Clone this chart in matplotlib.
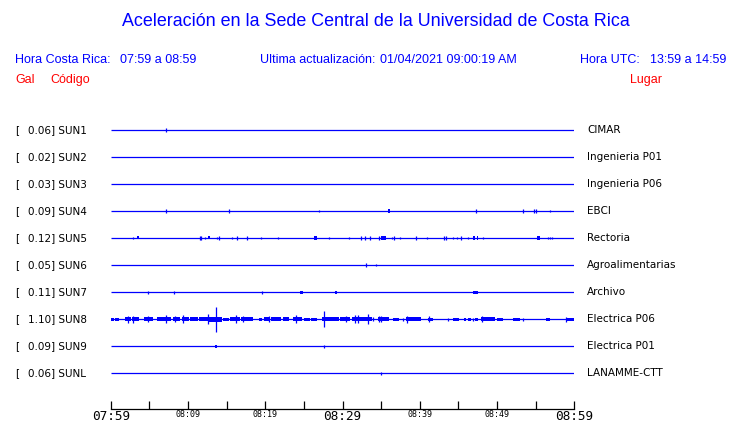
import matplotlib.pyplot as plt

# estaciones y datos
stations = ['SUN1', 'SUN2', 'SUN3', 'SUN4', 'SUN5', 'SUN6', 'SUN7', 'SUN8', 'SUN9', 'SUNL']
peaks = ['0.06', '0.02', '0.03', '0.09', '0.12', '0.05', '0.11', '1.10', '0.09', '0.06']
places = ['CIMAR', 'Ingenieria P01', 'Ingenieria P06', 'EBCI', 'Rectoria',
          'Agroalimentarias', 'Archivo', 'Electrica P06', 'Electrica P01', 'LANAMME-CTT']

tick_minutes = list(range(0, 61, 5))
tick_labels = ['07:59', '', '08:09', '', '08:19', '', '08:29', '', '08:39', '', '08:49', '', '08:59']
big_labels = ['07:59', '08:29', '08:59']

# picos: (minuto, amplitud) ; bloques: (minuto inicio, minuto fin, amplitud)
sun1_spikes = [(7.1, 2)]
sun1_blocks = []
sun2_spikes = []
sun2_blocks = []
sun3_spikes = []
sun3_blocks = []
sun4_spikes = [(7.1, 2), (15.35, 2), (26.9, 1), (47.3, 2), (53.4, 2), (54.8, 2), (55.0, 2), (56.8, 1)]
sun4_blocks = [(35.9, 36.2, 2)]
sun5_spikes = [(2.9, 1), (11.5, 2), (11.7, 2), (12.2, 1), (13.7, 1), (14.0, 2), (15.7, 1), (16.4, 2),
               (17.7, 2), (19.4, 1), (21.6, 1), (28.3, 1), (30.9, 1), (32.35, 2), (32.9, 2), (33.6, 2),
               (34.7, 2), (36.4, 1), (36.7, 2), (37.5, 1), (39.5, 2), (40.9, 1), (43.2, 2), (43.4, 2),
               (44.3, 1), (44.8, 1), (45.3, 2), (46.3, 1), (48.2, 1), (56.55, 1), (56.8, 1), (57.15, 1)]
sun5_blocks = [(3.45, 3.6, 1.5), (12.6, 12.8, 1.5), (26.3, 26.7, 2), (35.0, 35.6, 2),
               (46.95, 47.1, 2), (47.4, 47.6, 2), (55.2, 55.6, 2)]
sun6_spikes = [(33.1, 2), (34.4, 1)]
sun6_blocks = []
sun7_spikes = [(4.87, 1.5), (8.2, 1.5), (19.6, 1.5)]
sun7_blocks = [(24.5, 24.85, 1.5), (29.0, 29.25, 1.5), (46.9, 47.5, 1.5)]
sun8_spikes = [(2.3, 3.5), (2.85, 3.5), (4.8, 3), (7.1, 4), (8.3, 3), (9.35, 4), (12.6, 5.5),
               (13.6, 12.5), (16.2, 4), (17.15, 3), (20.5, 3), (24.0, 4), (27.65, 8), (30.45, 3),
               (31.6, 4), (32.05, 4), (33.25, 5.5), (34.0, 2), (34.75, 3), (34.95, 3), (37.85, 1.5),
               (38.4, 3.5), (41.15, 3), (43.7, 1.5), (46.85, 1.5), (48.0, 3), (53.4, 1.5), (58.9, 2.5)]
sun8_blocks = [(0.0, 0.4, 1.5), (0.55, 1.1, 1.5), (1.85, 2.6, 2), (2.7, 3.6, 2), (4.3, 5.5, 2),
               (6.0, 7.8, 2), (8.1, 9.0, 2), (9.2, 10.1, 2), (10.2, 11.25, 2), (11.4, 12.6, 2),
               (12.6, 14.4, 2.5), (14.5, 15.3, 1.5), (15.45, 16.7, 2), (16.9, 18.45, 2),
               (19.2, 19.6, 1.5), (19.9, 20.5, 2), (20.8, 22.0, 2), (22.3, 23.1, 2), (23.6, 24.7, 2),
               (25.0, 25.8, 1.5), (25.95, 26.7, 1.5), (27.3, 28.0, 2), (28.0, 29.5, 2),
               (29.7, 31.0, 2), (31.2, 33.8, 2), (34.6, 36.0, 2), (36.6, 37.35, 1.5),
               (38.2, 40.2, 2), (41.1, 41.7, 1.5), (44.3, 45.1, 1.5), (45.7, 46.0, 1.5),
               (46.3, 46.6, 1.5), (47.15, 47.5, 1.5), (47.9, 49.7, 2), (50.0, 50.8, 1.5),
               (52.1, 52.95, 1.5), (56.3, 56.85, 1.5), (58.9, 59.9, 1.5)]
sun9_spikes = [(27.65, 1.5)]
sun9_blocks = [(13.5, 13.7, 1.5)]
sunl_spikes = [(35.0, 1.5)]
sunl_blocks = []

all_spikes = [sun1_spikes, sun2_spikes, sun3_spikes, sun4_spikes, sun5_spikes,
              sun6_spikes, sun7_spikes, sun8_spikes, sun9_spikes, sunl_spikes]
all_blocks = [sun1_blocks, sun2_blocks, sun3_blocks, sun4_blocks, sun5_blocks,
              sun6_blocks, sun7_blocks, sun8_blocks, sun9_blocks, sunl_blocks]

W, H = 740, 423
BLUE = '#0000ff'
RED = '#ff0000'
spacing = 27.0  # px entre trazas

fig = plt.figure(figsize=(W / 100, H / 100), dpi=100)


def fx(x):
    return x / W


def fy(y):
    return 1 - y / H


# ejes de las trazas: de x=110.7 a 574.3 px, y de 110 a 409 px
ax = fig.add_axes([fx(110.7), fy(409), (574.3 - 110.7) / W, (409 - 110) / H])
ax.set_xlim(0, 60)
ax.set_ylim((409 - 130) / spacing, (110 - 130) / spacing)

for i in range(len(stations)):
    ax.plot([0, 60], [i, i], color=BLUE, lw=0.9, solid_capstyle='butt')
    for t, a in all_spikes[i]:
        ax.vlines(t, i - a / spacing, i + a / spacing, color=BLUE, lw=0.9)
    for t0, t1, a in all_blocks[i]:
        ax.fill_between([t0, t1], i - a / spacing, i + a / spacing,
                        facecolor=BLUE, lw=0)

for s in ['top', 'left', 'right']:
    ax.spines[s].set_visible(False)
ax.spines['bottom'].set_linewidth(0.9)
ax.set_yticks([])
ax.set_xticks(tick_minutes)
ax.set_xticklabels(tick_labels, family='DejaVu Sans Mono')
ax.tick_params(axis='x', direction='in', length=6, width=0.9, pad=1)
for lab in ax.get_xticklabels():
    if lab.get_text() in big_labels:
        lab.set_fontsize(9.2)
    else:
        lab.set_fontsize(6)

# titulo y encabezados
fig.text(fx(376), fy(22), 'Aceleración en la Sede Central de la Universidad de Costa Rica',
         color=BLUE, fontsize=12.9, family='Liberation Sans', ha='center', va='center')
hdr = dict(fontsize=9, family='Liberation Sans', va='center')
fig.text(fx(15), fy(60), 'Hora Costa Rica:', color=BLUE, **hdr)
fig.text(fx(120), fy(60), '07:59 a 08:59', color=BLUE, **hdr)
fig.text(fx(260), fy(60), 'Ultima actualización:', color=BLUE, **hdr)
fig.text(fx(380), fy(60), '01/04/2021 09:00:19 AM', color=BLUE, **hdr)
fig.text(fx(580), fy(60), 'Hora UTC:', color=BLUE, **hdr)
fig.text(fx(650), fy(60), '13:59 a 14:59', color=BLUE, **hdr)
fig.text(fx(15), fy(80), 'Gal', color=RED, **hdr)
fig.text(fx(50), fy(80), 'Código', color=RED, **hdr)
fig.text(fx(630), fy(80), 'Lugar', color=RED, **hdr)

# etiquetas de cada traza
for i in range(len(stations)):
    y = 130 + spacing * i
    fig.text(fx(15), fy(y), '[', fontsize=7.5, va='center')
    fig.text(fx(28), fy(y), f'{peaks[i]}] {stations[i]}', fontsize=7.5, va='center')
    fig.text(fx(587), fy(y), places[i], fontsize=7.5, va='center')

fig.savefig('out.png', dpi=100)
